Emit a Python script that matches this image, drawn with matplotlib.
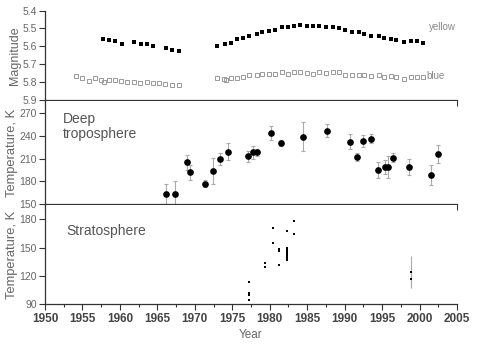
import matplotlib
matplotlib.use('Agg')
import matplotlib.pyplot as plt
from matplotlib.ticker import MultipleLocator

plt.rcParams['font.family'] = ['Liberation Sans', 'DejaVu Sans']

# top panel: magnitudes (own year scale, no labels)
yellow_year = [1959.2, 1960.1, 1961.1, 1962.2, 1964.1, 1965.2, 1966.1, 1967.1, 1969.1, 1970.1, 1971.2,
               1977.2, 1978.4, 1979.4, 1980.3, 1981.3, 1982.2, 1983.4, 1984.3, 1985.3, 1986.3, 1987.4,
               1988.4, 1989.3, 1990.3, 1991.4, 1992.3, 1993.3, 1994.4, 1995.4, 1996.4, 1997.4, 1998.4,
               1999.5, 2000.4, 2001.5, 2002.7, 2003.5, 2004.6, 2005.4, 2006.6, 2007.7, 2008.7, 2009.7]
yellow_mag = [5.558, 5.564, 5.571, 5.585, 5.577, 5.587, 5.585, 5.596, 5.610, 5.618, 5.624,
              5.598, 5.586, 5.581, 5.560, 5.555, 5.543, 5.532, 5.521, 5.514, 5.506, 5.491,
              5.490, 5.486, 5.480, 5.486, 5.484, 5.484, 5.490, 5.491, 5.498, 5.508, 5.519,
              5.521, 5.529, 5.545, 5.540, 5.554, 5.558, 5.564, 5.575, 5.573, 5.573, 5.582]
blue_year = [1954.9, 1955.9, 1956.9, 1957.9, 1958.9, 1959.3, 1960.1, 1961.1, 1962.0, 1963.0, 1964.1,
             1965.0, 1966.1, 1967.1, 1968.0, 1969.0, 1970.1, 1971.2,
             1977.2, 1978.2, 1978.5, 1979.3, 1980.3, 1981.3, 1982.2, 1983.4, 1984.3, 1985.3, 1986.3,
             1987.4, 1988.4, 1989.3, 1990.3, 1991.4, 1992.3, 1993.3, 1994.4, 1995.4, 1996.4, 1997.4,
             1998.4, 1999.5, 2000.4, 2001.5, 2002.7, 2003.5, 2004.6, 2005.4, 2006.6, 2007.7, 2008.7,
             2009.7]
blue_mag = [5.766, 5.777, 5.794, 5.778, 5.788, 5.801, 5.788, 5.790, 5.794, 5.797, 5.797,
            5.803, 5.797, 5.803, 5.806, 5.812, 5.816, 5.818,
            5.778, 5.782, 5.788, 5.775, 5.775, 5.769, 5.762, 5.758, 5.754, 5.756, 5.754,
            5.743, 5.754, 5.743, 5.743, 5.750, 5.754, 5.743, 5.747, 5.743, 5.743, 5.758,
            5.758, 5.758, 5.760, 5.767, 5.762, 5.771, 5.766, 5.771, 5.781, 5.773, 5.773,
            5.773]

# middle panel: deep troposphere
trop_year = [1966.1, 1967.3, 1969.0, 1969.3, 1971.4, 1972.45, 1973.35, 1974.45, 1977.15, 1977.8,
             1978.35, 1980.15, 1981.5, 1984.5, 1987.6, 1990.65, 1991.65, 1992.45, 1993.5, 1994.5,
             1995.35, 1995.8, 1996.5, 1998.65, 2001.5, 2002.5]
trop_T = [163, 163, 205, 192, 177, 194, 209, 219, 213, 218, 218, 244, 231, 239, 247, 232, 212, 233,
          236, 195, 199, 199, 211, 199, 188, 216]
trop_err = [14, 18, 10, 10, 5, 17, 8, 11, 7, 8, 5, 9, 4, 19, 9, 10, 5, 8, 6, 11, 9, 14, 6, 11, 13, 12]

# bottom panel: stratosphere
strat_year = [1977.2, 1977.2, 1977.2, 1977.2, 1979.4, 1979.4, 1980.5, 1980.5, 1981.2, 1981.2, 1981.2,
              1982.3, 1982.3, 1982.3, 1982.3, 1982.3, 1982.3, 1982.3, 1982.3, 1982.3, 1983.2, 1983.2]
strat_T = [114, 102, 100, 95, 134, 129, 171, 155, 148, 146, 132, 168, 150, 148, 146, 144, 142, 140,
           138, 137, 178, 164]
strat_err_year = [1998.8, 1998.8]
strat_err_T = [124, 117]
strat_err = [17, 8]

GRAY = '#666666'
SPINE = '#333333'


def style_axis(ax):
    for s in ['top', 'right']:
        ax.spines[s].set_visible(False)
    for s in ['left', 'bottom']:
        ax.spines[s].set_color(SPINE)
        ax.spines[s].set_linewidth(0.9)
    ax.tick_params(direction='out', colors=SPINE, labelcolor=GRAY, labelsize=7.5,
                   length=4, width=0.8, pad=2)
    ax.tick_params(which='minor', direction='out', colors=SPINE, length=2.5, width=0.8)


def main():
    fig = plt.figure(figsize=(5.0, 3.53), dpi=100)
    ax1 = fig.add_axes([0.09, 0.717, 0.824, 0.253])
    ax2 = fig.add_axes([0.09, 0.422, 0.824, 0.292])
    ax3 = fig.add_axes([0.09, 0.138, 0.824, 0.281])

    # magnitudes
    ax1.plot(yellow_year, yellow_mag, 's', color='black', markersize=3.3, markeredgewidth=0)
    ax1.plot(blue_year, blue_mag, 's', markerfacecolor='none', markeredgecolor='#999999',
             markersize=3.2, markeredgewidth=0.7)
    ax1.set_xlim(1950, 2015)
    ax1.set_ylim(5.9, 5.4)
    ax1.yaxis.set_major_locator(MultipleLocator(0.1))
    ax1.xaxis.set_major_locator(MultipleLocator(5))
    ax1.xaxis.set_minor_locator(MultipleLocator(2.5))
    style_axis(ax1)
    ax1.set_xticklabels([])
    ax1.set_ylabel('Magnitude', color=GRAY, fontsize=9, labelpad=1)
    ax1.text(2010.6, 5.49, 'yellow', color='#888888', fontsize=7, ha='left', va='center')
    ax1.text(2010.2, 5.765, 'blue', color='#888888', fontsize=7, ha='left', va='center')

    # deep troposphere
    ax2.errorbar(trop_year, trop_T, yerr=trop_err, fmt='o', color='black', markersize=3.8,
                 ecolor='#aaaaaa', elinewidth=0.8, capsize=1.5, capthick=0.8)
    ax2.set_xlim(1950, 2005)
    ax2.set_ylim(150, 286)
    ax2.yaxis.set_major_locator(MultipleLocator(30))
    ax2.xaxis.set_major_locator(MultipleLocator(5))
    ax2.xaxis.set_minor_locator(MultipleLocator(2.5))
    style_axis(ax2)
    ax2.set_xticklabels([])
    ax2.set_ylabel('Temperature, K', color=GRAY, fontsize=9.3, labelpad=1)
    ax2.text(1952.4, 252, 'Deep\ntroposphere', color='#555555', fontsize=10, ha='left',
             va='center', linespacing=1.1)

    # stratosphere
    ax3.plot(strat_year, strat_T, 's', color='black', markersize=1.9, markeredgewidth=0)
    ax3.errorbar(strat_err_year, strat_err_T, yerr=strat_err, fmt='s', color='black',
                 markersize=1.9, markeredgewidth=0, ecolor='#aaaaaa', elinewidth=0.8,
                 capsize=1.5, capthick=0.8)
    ax3.set_xlim(1950, 2005)
    ax3.set_ylim(90, 195)
    ax3.yaxis.set_major_locator(MultipleLocator(30))
    ax3.xaxis.set_major_locator(MultipleLocator(5))
    ax3.xaxis.set_minor_locator(MultipleLocator(2.5))
    style_axis(ax3)
    for lab in ax3.get_xticklabels():
        lab.set_fontweight('bold')
        lab.set_color('#444444')
        lab.set_fontsize(8.5)
    ax3.set_ylabel('Temperature, K', color=GRAY, fontsize=9.3, labelpad=1)
    ax3.set_xlabel('Year', color=GRAY, fontsize=8.5, labelpad=3)
    ax3.text(1952.9, 168, 'Stratosphere', color='#555555', fontsize=10, ha='left', va='center')

    fig.savefig('out.png', dpi=100)


if __name__ == '__main__':
    main()
